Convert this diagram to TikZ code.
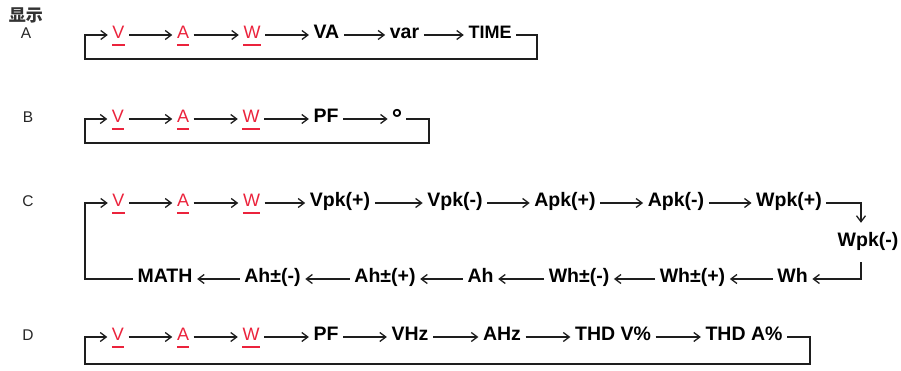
\documentclass[tikz,border=0pt]{standalone}
\usepackage{fontspec}
\setmainfont{Liberation Sans}
\newfontfamily\cjk{Noto Sans CJK SC}
\usetikzlibrary{arrows.meta}
\definecolor{myred}{RGB}{235,35,60}
\definecolor{linec}{RGB}{30,30,30}
\tikzset{
  lbl/.style={font=\fontsize{19.5}{22}\selectfont\bfseries, text=black, text height=12pt, text depth=5pt, inner xsep=4.5pt, inner ysep=0pt},
  hot/.style={lbl, font=\fontsize{18}{20}\selectfont, text=myred},
  rowlbl/.style={font=\fontsize{15.5}{18}\selectfont, text=black!85, text height=12pt, text depth=5pt, inner sep=0pt},
  ln/.style={draw=linec, line width=1.3pt},
  arr/.style={ln, -{Straight Barb[length=6pt,width=9pt]}},
  uline/.style={draw=myred, line width=1.9pt},
}
\begin{document}
\begin{tikzpicture}[x=1pt,y=-1pt]
\useasboundingbox (0,0) rectangle (901,371);
% labels
\node[font=\cjk\bfseries\fontsize{17}{18}\selectfont, text=black!80, inner sep=0pt] (disp) at (26,15) {显示};
\node[rowlbl] (la) at (26,35) {A};
\node[rowlbl] (lb) at (28,119) {B};
\node[rowlbl] (lc) at (28,203) {C};
\node[rowlbl] (ld) at (28,337) {D};

% ---------- Row A ----------
\node[hot] (aV) at (118.5,35) {V};
\node[hot] (aA) at (183,35) {A};
\node[hot] (aW) at (252,35) {W};
\node[lbl] (aVA) at (326.5,35) {VA};
\node[lbl] (avar) at (404.5,35) {var};
\node[lbl, font=\fontsize{18}{20}\selectfont\bfseries] (aT) at (490,35) {TIME};
\coordinate (aR) at (537,59);
\coordinate (aL) at (85,59);
\draw[arr] (aV) -- (aA);
\draw[arr] (aA) -- (aW);
\draw[arr] (aW) -- (aVA);
\draw[arr] (aVA) -- (avar);
\draw[arr] (avar) -- (aT);
\draw[arr] (aT.east) -| (aR) -- (aL) |- (aV.west);

% ---------- Row B ----------
\node[hot] (bV) at (118,119) {V};
\node[hot] (bA) at (183,119) {A};
\node[hot] (bW) at (251,119) {W};
\node[lbl] (bPF) at (326,119) {PF};
\node[lbl, inner xsep=4pt] (bdeg) at (397,119) {\fontsize{26}{26}\selectfont\raisebox{-5pt}{°}};
\coordinate (bR) at (429,143);
\coordinate (bL) at (85,143);
\draw[arr] (bV) -- (bA);
\draw[arr] (bA) -- (bW);
\draw[arr] (bW) -- (bPF);
\draw[arr] (bPF) -- (bdeg);
\draw[arr] (bdeg.east) -| (bR) -- (bL) |- (bV.west);

% ---------- Row C ----------
\node[hot] (cV) at (118.5,203) {V};
\node[hot] (cA) at (183,203) {A};
\node[hot] (cW) at (251.5,203) {W};
\node[lbl] (cVp) at (340,203) {Vpk(+)};
\node[lbl] (cVm) at (455,203) {Vpk(-)};
\node[lbl] (cAp) at (565,203) {Apk(+)};
\node[lbl] (cAm) at (676,203) {Apk(-)};
\node[lbl] (cWp) at (789,203) {Wpk(+)};
\node[lbl] (cWm) at (868,243.5) {Wpk(-)};
\node[lbl] (cWh) at (792.5,279) {Wh};
\node[lbl] (cWhp) at (692.5,279) {Wh±(+)};
\node[lbl] (cWhm) at (579,279) {Wh±(-)};
\node[lbl] (cAh) at (480.5,279) {Ah};
\node[lbl] (cAhp) at (385,279) {Ah±(+)};
\node[lbl] (cAhm) at (272.5,279) {Ah±(-)};
\node[lbl] (cM) at (165,279) {MATH};
\coordinate (cR) at (861,203);
\coordinate (cL) at (85,279);
\draw[arr] (cV) -- (cA);
\draw[arr] (cA) -- (cW);
\draw[arr] (cW) -- (cVp);
\draw[arr] (cVp) -- (cVm);
\draw[arr] (cVm) -- (cAp);
\draw[arr] (cAp) -- (cAm);
\draw[arr] (cAm) -- (cWp);
\draw[arr, shorten >=12pt] (cWp.east) -| (cWm.north -| cR);
\draw[arr, shorten <=10pt] (cWm.south -| cR) |- (cWh.east);
\draw[arr] (cWh) -- (cWhp);
\draw[arr] (cWhp) -- (cWhm);
\draw[arr] (cWhm) -- (cAh);
\draw[arr] (cAh) -- (cAhp);
\draw[arr] (cAhp) -- (cAhm);
\draw[arr] (cAhm) -- (cM);
\draw[arr] (cM.west) -- (cL) |- (cV.west);

% ---------- Row D ----------
\node[hot] (dV) at (118,337) {V};
\node[hot] (dA) at (183,337) {A};
\node[hot] (dW) at (251,337) {W};
\node[lbl] (dPF) at (326,337) {PF};
\node[lbl] (dVHz) at (410,337) {VHz};
\node[lbl] (dAHz) at (502,337) {AHz};
\node[lbl] (dTV) at (613,337) {THD V\%};
\node[lbl] (dTA) at (744,337) {THD A\%};
\coordinate (dR) at (810,364);
\coordinate (dL) at (85,364);
\draw[arr] (dV) -- (dA);
\draw[arr] (dA) -- (dW);
\draw[arr] (dW) -- (dPF);
\draw[arr] (dPF) -- (dVHz);
\draw[arr] (dVHz) -- (dAHz);
\draw[arr] (dAHz) -- (dTV);
\draw[arr] (dTV) -- (dTA);
\draw[arr] (dTA.east) -| (dR) -- (dL) |- (dV.west);

% underlines
\foreach \n in {aV,aA,aW,bV,bA,bW,cV,cA,cW,dV,dA,dW}
  \draw[uline] ([xshift=4.5pt,yshift=-1.5pt]\n.south west) -- ([xshift=-4.5pt,yshift=-1.5pt]\n.south east);
\end{tikzpicture}
\end{document}
